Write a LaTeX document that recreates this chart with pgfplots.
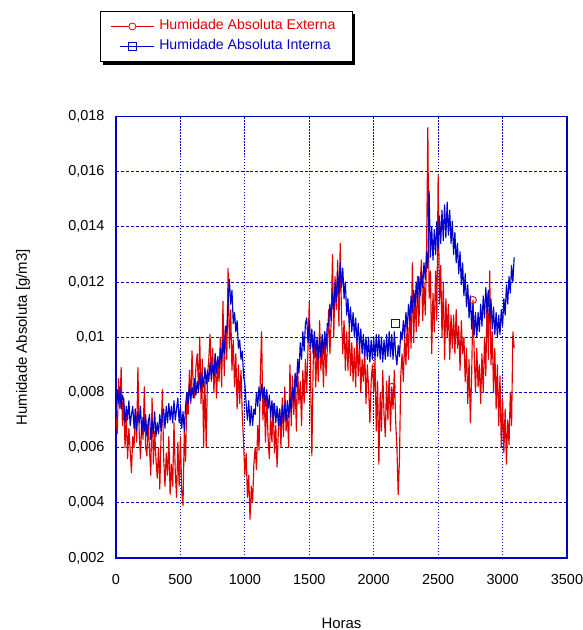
\documentclass[border=0pt]{standalone}
\usepackage{fontspec}
\setmainfont{Liberation Sans}
\usepackage{pgfplots}
\pgfplotsset{compat=1.18}
\definecolor{redc}{RGB}{224,0,0}
\definecolor{bluec}{RGB}{0,0,204}
\definecolor{gridc}{RGB}{0,0,200}
\begin{document}
\begin{tikzpicture}
\path[use as bounding box] (-116bp,-72bp) rectangle (467bp,558bp);
\fill[black] (-13bp,493bp) rectangle (238.5bp,544bp);
\begin{axis}[
  at={(0,0)}, anchor=south west,
  scale only axis, width=451bp, height=441.5bp,
  xmin=0, xmax=3500, ymin=2, ymax=18,
  xtick={0,500,...,3500}, ytick={2,4,...,18},
  yticklabels={{0,002},{0,004},{0,006},{0,008},{0,01},{0,012},{0,014},{0,016},{0,018}},
  major tick length=0pt,
  /pgf/number format/1000 sep={},
  /pgf/number format/assume math mode=true,
  ticklabel style={font=\fontsize{14.5}{17}\selectfont},
  xticklabel style={yshift=-13bp},
  yticklabel style={xshift=-8bp},
  axis line style={gridc, line width=1.2pt},
  grid=major,
  x grid style={gridc, line width=0.9pt, dash pattern=on 1.2pt off 1.8pt},
  y grid style={gridc, line width=0.9pt, dash pattern=on 3pt off 2pt},
  xlabel={Horas}, ylabel={Humidade Absoluta [g/m3]},
  label style={font=\fontsize{15}{18}\selectfont},
  xlabel style={at={(axis description cs:0.5,-0.1472)}, anchor=center},
  ylabel style={at={(axis description cs:-0.2062,0.5)}, anchor=center},
  legend style={
    at={(axis description cs:-0.0355,1.239)}, anchor=north west,
    draw=black, line width=1pt, fill=white,
    inner xsep=10bp, inner ysep=8.5bp,
    row sep=7bp, column sep=5bp,
    font=\fontsize{14.2}{17}\selectfont,
    nodes={inner sep=0bp, text height=10bp, text depth=3bp},
  },
  legend cell align=left,
]
\addplot[redc, line width=1.15pt, sharp plot, line join=round,
  legend image code/.code={
    \draw[redc, line width=0.8pt] (0bp,0bp) -- (43bp,0bp);
    \draw[redc, line width=0.8pt, fill=white] (21.5bp,0bp) circle (3.5bp);}]
table[row sep=\\] {x y\\
0 7.1\\ 10 6.5\\ 20 8.5\\ 30 7.4\\ 40 8.9\\ 50 6.8\\ 60 7.8\\ 70 6.0\\ 80 7.2\\ 90 5.6\\
100 6.7\\ 110 5.9\\ 120 5.1\\ 130 6.4\\ 140 6.0\\ 150 7.4\\ 160 6.2\\ 170 8.9\\ 180 6.6\\ 190 5.6\\
200 7.0\\ 210 6.3\\ 220 8.2\\ 230 6.0\\ 240 5.7\\ 250 7.0\\ 260 5.9\\ 270 5.0\\ 280 7.8\\ 290 5.4\\
300 6.6\\ 310 5.6\\ 320 4.9\\ 330 6.0\\ 340 4.5\\ 350 6.5\\ 360 8.1\\ 370 5.6\\ 380 4.6\\ 390 5.8\\
400 5.0\\ 410 6.4\\ 420 4.3\\ 430 5.4\\ 440 4.6\\ 450 6.9\\ 460 5.1\\ 470 4.2\\ 480 6.2\\ 490 4.6\\
500 6.4\\ 510 4.4\\ 520 3.9\\ 530 6.6\\ 540 5.5\\ 550 8.0\\ 560 7.2\\ 570 8.8\\ 580 7.6\\ 590 9.5\\
600 8.2\\ 610 7.8\\ 620 8.9\\ 630 9.4\\ 640 8.2\\ 650 10.0\\ 660 7.6\\ 670 9.2\\ 680 6.0\\ 690 8.4\\
700 6.0\\ 710 8.6\\ 720 9.2\\ 730 10.1\\ 740 8.4\\ 750 9.6\\ 760 8.0\\ 770 9.4\\ 780 7.8\\ 790 9.0\\
800 8.4\\ 810 10.0\\ 820 8.2\\ 830 11.3\\ 840 8.6\\ 850 10.4\\ 860 9.2\\ 870 12.5\\ 880 9.6\\ 890 11.0\\
900 8.8\\ 910 9.9\\ 920 8.2\\ 930 9.4\\ 940 7.4\\ 950 9.0\\ 960 7.6\\ 970 8.8\\ 980 7.2\\ 990 6.2\\
1000 5.0\\ 1010 5.8\\ 1020 4.2\\ 1030 5.0\\ 1040 3.4\\ 1050 4.6\\ 1060 4.0\\ 1070 5.4\\ 1080 6.0\\ 1090 5.2\\
1100 6.8\\ 1110 5.9\\ 1120 8.6\\ 1130 10.2\\ 1140 7.0\\ 1150 8.0\\ 1160 6.2\\ 1170 7.8\\ 1180 6.4\\ 1190 5.6\\
1200 7.2\\ 1210 6.2\\ 1220 7.6\\ 1230 5.8\\ 1240 6.8\\ 1250 5.3\\ 1260 6.6\\ 1270 7.4\\ 1280 6.0\\ 1290 7.8\\
1300 6.4\\ 1310 8.2\\ 1320 6.6\\ 1330 7.2\\ 1340 6.0\\ 1350 9.0\\ 1360 6.8\\ 1370 8.6\\ 1380 7.2\\ 1390 8.4\\
1400 6.6\\ 1410 8.8\\ 1420 7.6\\ 1430 8.4\\ 1440 6.8\\ 1450 8.8\\ 1460 7.6\\ 1470 9.2\\ 1480 8.0\\ 1490 9.6\\
1500 11.3\\ 1510 8.6\\ 1520 5.7\\ 1530 9.0\\ 1540 10.2\\ 1550 8.2\\ 1560 9.6\\ 1570 8.4\\ 1580 10.6\\ 1590 8.8\\
1600 9.8\\ 1610 8.2\\ 1620 10.2\\ 1630 8.6\\ 1640 9.6\\ 1650 11.0\\ 1660 9.4\\ 1670 10.6\\ 1680 13.0\\ 1690 10.0\\
1700 12.2\\ 1710 11.0\\ 1720 12.8\\ 1730 10.4\\ 1740 13.4\\ 1750 10.8\\ 1760 9.4\\ 1770 10.6\\ 1780 8.8\\ 1790 10.2\\
1800 8.8\\ 1810 10.4\\ 1820 8.6\\ 1830 9.8\\ 1840 8.4\\ 1850 9.6\\ 1860 8.2\\ 1870 10.0\\ 1880 8.6\\ 1890 9.8\\
1900 8.0\\ 1910 9.2\\ 1920 8.4\\ 1930 9.6\\ 1940 7.6\\ 1950 9.0\\ 1960 8.2\\ 1970 6.9\\ 1980 8.4\\ 1990 9.0\\
2000 8.0\\ 2010 9.2\\ 2020 6.6\\ 2030 8.4\\ 2040 5.4\\ 2050 8.0\\ 2060 6.6\\ 2070 8.8\\ 2080 7.2\\ 2090 6.4\\
2100 8.4\\ 2110 7.0\\ 2120 8.6\\ 2130 6.6\\ 2140 8.2\\ 2150 7.4\\ 2160 8.8\\ 2170 7.0\\ 2180 6.0\\ 2190 4.3\\
2200 5.6\\ 2210 8.6\\ 2220 9.4\\ 2230 8.4\\ 2240 10.0\\ 2250 9.0\\ 2260 10.6\\ 2270 9.2\\ 2280 11.0\\ 2290 9.6\\
2300 12.7\\ 2310 9.8\\ 2320 11.6\\ 2330 10.2\\ 2340 12.2\\ 2350 10.4\\ 2360 11.8\\ 2370 12.8\\ 2380 10.6\\ 2390 12.0\\
2400 10.8\\ 2410 13.0\\ 2420 17.6\\ 2430 11.4\\ 2440 12.4\\ 2450 9.4\\ 2460 11.6\\ 2470 10.2\\ 2480 12.4\\ 2490 10.6\\
2500 15.9\\ 2510 11.2\\ 2520 12.6\\ 2530 10.0\\ 2540 12.0\\ 2550 9.2\\ 2560 11.4\\ 2570 10.0\\ 2580 11.2\\ 2590 9.2\\
2600 10.8\\ 2610 9.6\\ 2620 10.8\\ 2630 9.4\\ 2640 11.0\\ 2650 9.6\\ 2660 10.4\\ 2670 8.8\\ 2680 10.6\\ 2690 9.4\\
2700 10.0\\ 2710 8.4\\ 2720 9.6\\ 2730 7.6\\ 2740 9.2\\ 2750 6.9\\ 2760 8.6\\ 2770 11.35\\ 2780 9.4\\ 2790 8.0\\
2800 9.6\\ 2810 8.2\\ 2820 9.0\\ 2830 7.6\\ 2840 9.4\\ 2850 8.0\\ 2860 10.0\\ 2870 8.6\\ 2880 11.6\\ 2890 9.2\\
2900 12.4\\ 2910 9.0\\ 2920 10.2\\ 2930 8.0\\ 2940 9.6\\ 2950 7.4\\ 2960 9.0\\ 2970 6.8\\ 2980 8.6\\ 2990 6.0\\
3000 7.8\\ 3010 5.8\\ 3020 7.4\\ 3030 5.4\\ 3040 7.0\\ 3050 6.1\\ 3060 8.0\\ 3070 6.8\\ 3080 10.2\\ 3090 9.6\\
};
\addlegendentry{\textcolor{redc}{Humidade Absoluta Externa}\hspace*{7bp}}
\addplot[bluec, line width=1.15pt, sharp plot, line join=round,
  legend image code/.code={
    \draw[bluec, line width=0.8pt] (9bp,0bp) -- (43bp,0bp);
    \draw[bluec, line width=0.8pt] (17.5bp,-4bp) rectangle (25.5bp,4bp);}]
table[row sep=\\] {x y\\
0 7.3\\ 10 8.1\\ 20 7.6\\ 30 8.2\\ 40 7.4\\ 50 7.9\\ 60 7.7\\ 70 6.9\\ 80 7.5\\ 90 7.0\\
100 7.7\\ 110 6.8\\ 120 7.2\\ 130 7.5\\ 140 6.7\\ 150 7.4\\ 160 6.6\\ 170 7.3\\ 180 6.9\\ 190 7.5\\
200 6.5\\ 210 7.1\\ 220 6.6\\ 230 7.2\\ 240 6.4\\ 250 6.9\\ 260 7.2\\ 270 6.3\\ 280 7.0\\ 290 6.5\\
300 7.3\\ 310 6.4\\ 320 6.9\\ 330 6.5\\ 340 7.2\\ 350 6.6\\ 360 7.1\\ 370 7.4\\ 380 6.7\\ 390 7.5\\
400 6.9\\ 410 7.6\\ 420 7.0\\ 430 7.5\\ 440 6.9\\ 450 7.7\\ 460 7.0\\ 470 7.4\\ 480 7.8\\ 490 6.9\\
500 7.5\\ 510 6.7\\ 520 7.3\\ 530 6.6\\ 540 7.5\\ 550 8.0\\ 560 7.6\\ 570 8.3\\ 580 7.7\\ 590 8.2\\
600 7.8\\ 610 8.5\\ 620 7.9\\ 630 8.4\\ 640 8.0\\ 650 8.7\\ 660 8.1\\ 670 8.6\\ 680 8.2\\ 690 8.9\\
700 8.3\\ 710 8.8\\ 720 8.4\\ 730 9.1\\ 740 8.5\\ 750 9.0\\ 760 8.6\\ 770 9.4\\ 780 8.7\\ 790 9.3\\
800 8.9\\ 810 9.6\\ 820 9.1\\ 830 9.9\\ 840 9.4\\ 850 10.4\\ 860 10.2\\ 870 11.3\\ 880 12.1\\ 890 11.2\\
900 11.7\\ 910 10.5\\ 920 10.9\\ 930 10.2\\ 940 10.6\\ 950 9.6\\ 960 9.9\\ 970 9.2\\ 980 9.5\\ 990 8.6\\
1000 8.3\\ 1010 7.6\\ 1020 7.0\\ 1030 7.7\\ 1040 6.8\\ 1050 7.5\\ 1060 6.8\\ 1070 7.4\\ 1080 7.2\\ 1090 8.0\\
1100 7.5\\ 1110 8.2\\ 1120 7.7\\ 1130 8.3\\ 1140 7.8\\ 1150 8.2\\ 1160 7.5\\ 1170 8.1\\ 1180 7.4\\ 1190 7.9\\
1200 7.1\\ 1210 7.7\\ 1220 7.0\\ 1230 7.6\\ 1240 6.9\\ 1250 7.5\\ 1260 6.8\\ 1270 7.4\\ 1280 6.8\\ 1290 7.5\\
1300 6.9\\ 1310 7.6\\ 1320 7.0\\ 1330 7.7\\ 1340 7.1\\ 1350 7.8\\ 1360 7.3\\ 1370 8.2\\ 1380 7.7\\ 1390 8.7\\
1400 8.2\\ 1410 9.2\\ 1420 8.7\\ 1430 9.8\\ 1440 9.2\\ 1450 10.2\\ 1460 9.5\\ 1470 10.5\\ 1480 10.7\\ 1490 9.8\\
1500 10.6\\ 1510 9.6\\ 1520 10.3\\ 1530 9.4\\ 1540 10.2\\ 1550 9.3\\ 1560 10.0\\ 1570 9.2\\ 1580 10.0\\ 1590 9.3\\
1600 10.1\\ 1610 9.4\\ 1620 10.2\\ 1630 9.6\\ 1640 10.5\\ 1650 10.4\\ 1660 11.2\\ 1670 10.6\\ 1680 11.6\\ 1690 11.0\\
1700 12.0\\ 1710 11.3\\ 1720 12.4\\ 1730 11.6\\ 1740 12.7\\ 1750 11.8\\ 1760 12.5\\ 1770 11.4\\ 1780 12.0\\ 1790 10.8\\
1800 11.4\\ 1810 10.4\\ 1820 11.1\\ 1830 10.2\\ 1840 10.9\\ 1850 10.0\\ 1860 10.7\\ 1870 9.8\\ 1880 10.5\\ 1890 9.6\\
1900 10.3\\ 1910 9.4\\ 1920 10.1\\ 1930 9.3\\ 1940 10.0\\ 1950 9.2\\ 1960 10.0\\ 1970 9.1\\ 1980 9.9\\ 1990 9.2\\
2000 10.0\\ 2010 9.2\\ 2020 10.1\\ 2030 9.3\\ 2040 10.1\\ 2050 9.2\\ 2060 10.0\\ 2070 9.1\\ 2080 9.9\\ 2090 9.2\\
2100 10.1\\ 2110 9.3\\ 2120 10.2\\ 2130 9.3\\ 2140 10.1\\ 2150 9.2\\ 2160 10.2\\ 2170 9.4\\ 2180 9.0\\ 2190 9.7\\
2200 9.3\\ 2210 10.2\\ 2220 9.9\\ 2230 10.6\\ 2240 10.0\\ 2250 10.9\\ 2260 10.3\\ 2270 11.2\\ 2280 10.6\\ 2290 11.5\\
2300 10.9\\ 2310 11.7\\ 2320 11.1\\ 2330 12.0\\ 2340 11.3\\ 2350 12.2\\ 2360 11.5\\ 2370 12.4\\ 2380 11.8\\ 2390 12.7\\
2400 12.1\\ 2410 13.1\\ 2420 12.5\\ 2430 15.3\\ 2440 12.9\\ 2450 14.0\\ 2460 12.8\\ 2470 13.9\\ 2480 13.0\\ 2490 14.2\\
2500 13.2\\ 2510 14.4\\ 2520 13.4\\ 2530 14.6\\ 2540 13.5\\ 2550 14.8\\ 2560 13.6\\ 2570 14.9\\ 2580 13.7\\ 2590 14.6\\
2600 13.4\\ 2610 14.2\\ 2620 13.0\\ 2630 13.8\\ 2640 12.7\\ 2650 13.4\\ 2660 12.3\\ 2670 13.1\\ 2680 11.9\\ 2690 12.7\\
2700 11.5\\ 2710 12.3\\ 2720 11.1\\ 2730 11.9\\ 2740 10.7\\ 2750 11.5\\ 2760 10.3\\ 2770 11.2\\ 2780 10.1\\ 2790 10.9\\
2800 10.0\\ 2810 10.9\\ 2820 10.2\\ 2830 11.2\\ 2840 10.4\\ 2850 11.5\\ 2860 10.7\\ 2870 11.8\\ 2880 10.9\\ 2890 11.7\\
2900 10.6\\ 2910 11.4\\ 2920 10.3\\ 2930 11.1\\ 2940 10.1\\ 2950 10.9\\ 2960 10.0\\ 2970 10.8\\ 2980 10.1\\ 2990 11.0\\
3000 10.4\\ 3010 11.4\\ 3020 10.8\\ 3030 11.9\\ 3040 11.2\\ 3050 12.2\\ 3060 11.6\\ 3070 12.6\\ 3080 12.0\\ 3090 12.9\\
};
\addlegendentry{\textcolor{bluec}{Humidade Absoluta Interna}}
\addplot[redc, only marks, mark=o, mark size=3.5bp, mark options={line width=0.9pt}, forget plot]
  coordinates {(2140,8.2) (2770,11.35)};
\addplot[bluec, only marks, mark=square, mark size=4bp, mark options={line width=0.9pt}, forget plot]
  coordinates {(2165,10.5)};
\end{axis}
\end{tikzpicture}
\end{document}
